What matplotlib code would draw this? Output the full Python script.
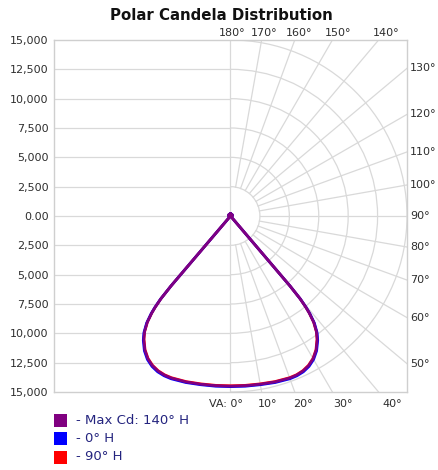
import numpy as np
import matplotlib
matplotlib.use("Agg")
import matplotlib.pyplot as plt
from matplotlib.patches import Arc, Rectangle

# vertical angles (deg from nadir) and candela per series
vert_angles = [0, 5, 10, 15, 20, 22.5, 25, 27.5, 30, 32.5, 35, 36.5, 38, 39, 39.5, 40, 40.3, 41,
               90, 100, 120, 140, 160, 180]
cd_max_140 = [14500, 14520, 14560, 14640, 14700, 14680, 14580, 14380, 14050, 13550,
              12850, 12300, 11500, 10650, 10050, 9200, 7800, 0, 0, 180, 180, 180, 180, 180]
cd_0h = [14540, 14560, 14600, 14690, 14760, 14740, 14650, 14450, 14120, 13620,
         12920, 12370, 11570, 10720, 10120, 9270, 7850, 0, 0, 180, 180, 180, 180, 180]
cd_90h = [14470, 14490, 14530, 14610, 14670, 14650, 14550, 14350, 14020, 13520,
          12820, 12270, 11470, 10620, 10020, 9170, 7780, 0, 0, 180, 180, 180, 180, 180]

series_labels = ["- Max Cd: 140\u00b0 H", "- 0\u00b0 H", "- 90\u00b0 H"]
series_colors = ["#800080", "#0000ff", "#ff0000"]

y_ticks = [15000, 12500, 10000, 7500, 5000, 2500, 0, -2500, -5000, -7500, -10000, -12500, -15000]
y_tick_labels = ["15,000", "12,500", "10,000", "7,500", "5,000", "2,500", "0.00",
                 "2,500", "5,000", "7,500", "10,000", "12,500", "15,000"]
ring_values = [2500, 5000, 7500, 10000, 12500, 15000]
spoke_angles = [10, 20, 30, 40, 50, 60, 70, 80, 90, 100, 110, 120, 130, 140, 150, 160, 170]
top_labels = [180, 170, 160, 150, 140]
right_labels = [130, 120, 110, 100, 90, 80, 70, 60, 50]
bottom_labels = [10, 20, 30, 40]

RMAX = 15000
grid_col = "#d9d9d9"
txt_col = "#2e2e2e"

fig = plt.figure(figsize=(4.39, 4.70), dpi=100)
ax = fig.add_axes([54 / 439, 78 / 470, 353 / 439, 352 / 470])
ax.set_xlim(-RMAX, RMAX)
ax.set_ylim(-RMAX, RMAX)

# left half: plain horizontal grid lines
for v in y_ticks[1:-1]:
    ax.plot([-RMAX, 0], [v, v], color=grid_col, lw=0.9, zorder=1)
ax.axvline(0, color=grid_col, lw=0.9, zorder=1)

# right half: polar grid
for r in ring_values:
    ax.add_patch(Arc((0, 0), 2 * r, 2 * r, theta1=-90, theta2=90,
                     color=grid_col, lw=0.9, zorder=1))
for a in spoke_angles:
    t = np.radians(a)
    r0, r1 = ring_values[0], 3 * RMAX
    ax.plot([r0 * np.sin(t), r1 * np.sin(t)], [-r0 * np.cos(t), -r1 * np.cos(t)],
            color=grid_col, lw=0.9, zorder=1)

# curves, mirrored on both sides
th = np.radians(vert_angles)
for vals, col, lw in [(cd_90h, series_colors[2], 2.0), (cd_0h, series_colors[1], 2.0),
                      (cd_max_140, series_colors[0], 1.9)]:
    r = np.array(vals, dtype=float)
    xs = np.concatenate([-(r * np.sin(th))[::-1], r * np.sin(th)])
    ys = np.concatenate([(-r * np.cos(th))[::-1], -r * np.cos(th)])
    ax.plot(xs, ys, color=col, lw=lw, zorder=3, solid_joinstyle="round")

ax.set_xticks([])
ax.set_yticks(y_ticks)
ax.set_yticklabels(y_tick_labels)
ax.tick_params(axis="y", length=0, pad=4, labelsize=8, labelcolor=txt_col)
for s in ax.spines.values():
    s.set_color("#cfcfcf")
    s.set_linewidth(1.0)

# angle labels
y_top = RMAX + 600
for a in top_labels:
    x = -y_top * np.tan(np.radians(a))
    ax.text(x + 150, y_top, f"{a}\u00b0", ha="center", va="center", fontsize=8,
            color=txt_col, clip_on=False)
for a in right_labels:
    t = np.radians(a)
    y = -RMAX * np.cos(t) / np.sin(t)
    ax.text(RMAX + 250, y, f"{a}\u00b0", ha="left", va="center", fontsize=8,
            color=txt_col, clip_on=False)
y_bot = -RMAX - 1000
ax.text(1050, y_bot, "VA: 0\u00b0", ha="right", va="center", fontsize=8,
        color=txt_col, clip_on=False)
for a in bottom_labels:
    x = -y_bot * np.tan(np.radians(a))
    ax.text(x + 300, y_bot, f"{a}\u00b0", ha="center", va="center", fontsize=8,
            color=txt_col, clip_on=False)

fig.text(221 / 439, 1 - 15 / 470, "Polar Candela Distribution", ha="center", va="center",
         fontsize=10.8, fontweight="bold", color="#111111")

# legend
for i, (lab, col) in enumerate(zip(series_labels, series_colors)):
    yc = 420 + i * 18.5
    fig.patches.append(Rectangle((54 / 439, 1 - (yc + 6.5) / 470), 13 / 439, 13 / 470,
                                 transform=fig.transFigure, facecolor=col, edgecolor="none"))
    fig.text(76 / 439, 1 - yc / 470, lab, ha="left", va="center", fontsize=9.5,
             color="#24247f")

fig.savefig("out.png", dpi=100)
